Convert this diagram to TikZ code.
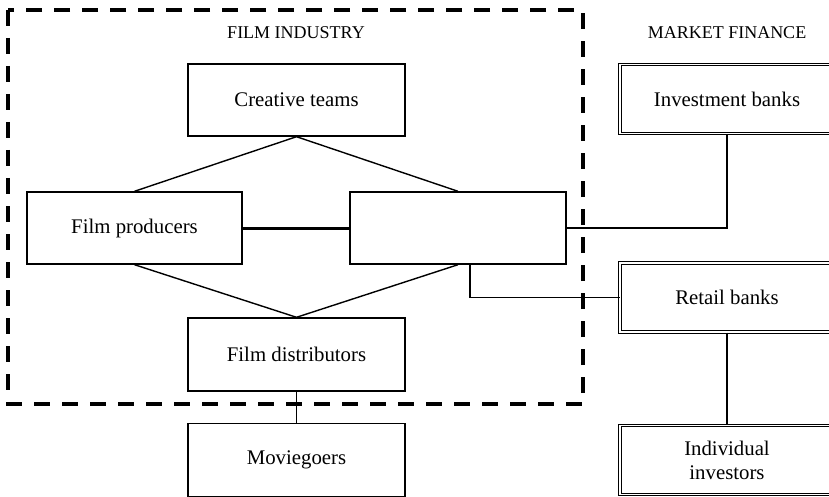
\documentclass[tikz,border=0pt]{standalone}
\usepackage{fontspec}
\setmainfont{Liberation Serif}
\begin{document}
\begin{tikzpicture}[x=1pt,y=-1pt,
  box/.style={draw, line width=1.4pt, minimum width=217pt, minimum height=72pt, inner sep=0pt, font=\fontsize{20.8}{24}\selectfont, align=center},
  dbox/.style={draw, line width=1pt, double=white, double distance=1.8pt, minimum width=214pt, minimum height=69pt, inner sep=0pt, font=\fontsize{20.8}{24}\selectfont, align=center},
  head/.style={font=\fontsize{18}{20}\selectfont, inner sep=0pt},
  link/.style={line width=1.4pt},
  thick link/.style={line width=3pt},
  frame/.style={line width=3.6pt, dash pattern=on 16pt off 12pt}]
\useasboundingbox (0,0) rectangle (829,497);
\clip (0,0) rectangle (829,497);
\node[head] (fi) at (296,33) {FILM INDUSTRY};
\node[head] (mf) at (727,33) {MARKET FINANCE};
\node[box] (ct) at (296.5,100) {Creative teams};
\node[box, minimum width=215pt] (fp) at (134.5,228) {Film producers};
\node[box, minimum width=216pt] (rb) at (458,228) {};
\node[box, minimum height=73pt] (fd) at (296.5,354.5) {Film distributors};
\node[box, minimum height=73pt] (mg) at (296.5,460) {Moviegoers};
\node[dbox] (ib) at (727,99) {Investment banks};
\node[dbox] (rt) at (727,297.5) {Retail banks};
\node[dbox] (ii) at (727,460) {Individual\\investors};
\draw[link] (ct.south) -- (fp.north);
\draw[link] (ct.south) -- (rb.north);
\draw[link] (fp.south) -- (fd.north);
\draw[link] (rb.south) -- (fd.north);
\draw[thick link] (fp.east) -- (rb.west);
\draw[link] (rb.east) -| (ib.south);
\draw[link] ([xshift=12pt]rb.south) |- (rt.west);
\draw[link] (rt.south) -- (ii.north);
\draw[link] (fd.south) -- (mg.north);
\draw[frame] (8,10) rectangle (583,404);
\end{tikzpicture}
\end{document}
